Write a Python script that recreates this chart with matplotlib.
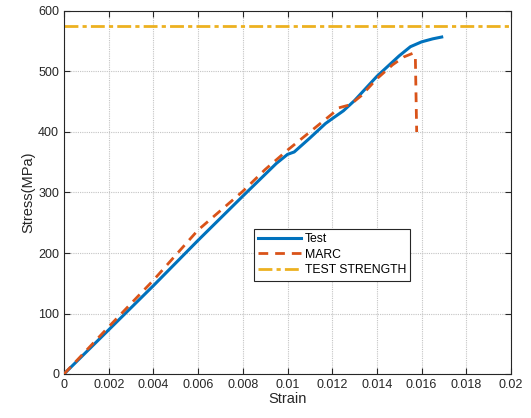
import matplotlib
matplotlib.use("Agg")
import matplotlib.pyplot as plt
from matplotlib.ticker import FuncFormatter, MultipleLocator

plt.rcParams['font.family'] = ['Liberation Sans', 'DejaVu Sans']

test_strain = [0, 0.002, 0.004, 0.006, 0.008, 0.0095, 0.0100, 0.0103, 0.0110, 0.0117,
               0.0120, 0.0125, 0.0130, 0.0140, 0.0150, 0.0155, 0.0160, 0.0165, 0.0169]
test_stress = [0, 73, 146, 221, 294, 348, 363, 367, 390, 414,
               422, 435, 452, 492, 526, 541, 549, 554, 557]

marc_strain = [0, 0.002, 0.004, 0.006, 0.008, 0.009, 0.010, 0.011, 0.012, 0.0123,
               0.0128, 0.0133, 0.0140, 0.0147, 0.0152, 0.0156, 0.01572, 0.01578]
marc_stress = [0, 78, 155, 238, 302, 338, 370, 400, 430, 440,
               445, 460, 488, 511, 524, 530, 525, 400]

strength = 575
xlim = (0, 0.02)
ylim = (0, 600)

fig = plt.figure(figsize=(5.31, 4.18), dpi=100)
ax = fig.add_axes([64/531, 44/418, 447/531, 363/418])

ax.plot(test_strain, test_stress, color='#0072BD', lw=2.2, label='Test', zorder=3)
ax.plot(marc_strain, marc_stress, color='#D95319', lw=2.0, ls=(0, (3.5, 2.5)), label='MARC', zorder=4)
ax.axhline(strength, color='#EDB120', lw=2.0, ls=(0, (5, 1.5, 1.5, 1.5)), label='TEST STRENGTH', zorder=2)

ax.set_xlim(*xlim)
ax.set_ylim(*ylim)
ax.xaxis.set_major_locator(MultipleLocator(0.002))
ax.yaxis.set_major_locator(MultipleLocator(100))
ax.xaxis.set_major_formatter(FuncFormatter(lambda v, p: '%g' % round(v, 4)))
ax.tick_params(direction='in', top=True, right=True, labelsize=9, length=4, width=0.8, colors='#262626')
ax.grid(True, ls=(0, (1, 1)), color='#c4c4c4', lw=0.8)
for s in ax.spines.values():
    s.set_color('#262626')
    s.set_linewidth(0.8)

ax.set_xlabel('Strain', fontsize=10.5, color='#262626', labelpad=1)
ax.set_ylabel('Stress(MPa)', fontsize=10.5, color='#262626', labelpad=2)

leg = ax.legend(loc='upper left', bbox_to_anchor=(0.425, 0.40), borderaxespad=0,
                fontsize=8.8, handlelength=3.5, handletextpad=0.3, fancybox=False,
                framealpha=1, edgecolor='#262626', labelspacing=0.3, borderpad=0.35)
leg.get_frame().set_linewidth(0.8)

fig.savefig('out.png', dpi=100)
